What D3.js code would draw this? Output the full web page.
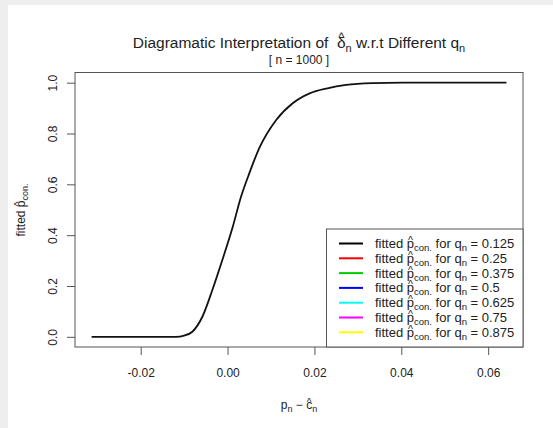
<!DOCTYPE html>
<html>
<head>
<meta charset="utf-8">
<script src="https://cdn.jsdelivr.net/npm/d3@7"></script>
<style>
  body { margin: 0; background: #fff; }
  text { font-family: "Liberation Sans", Arial, sans-serif; fill: #222; }
</style>
</head>
<body>
<svg id="chart" width="553" height="428"></svg>
<script>
// curve
var diffX = [-0.0313, -0.0119, -0.0100, -0.0081, -0.0058, -0.0035, -0.0012, 0.0012, 0.0031, 0.0050,
             0.0073, 0.0112, 0.0150, 0.0189, 0.0230, 0.0273, 0.0334, 0.0404, 0.0500, 0.0642];
var fittedP = [0, 0, 0.005, 0.02, 0.079, 0.184, 0.302, 0.433, 0.551, 0.643,
               0.742, 0.853, 0.919, 0.958, 0.978, 0.991, 0.998, 1.0, 1.0, 1.0];
var qValues = ["0.125", "0.25", "0.375", "0.5", "0.625", "0.75", "0.875"];
var qColors = ["#000000", "#ff0000", "#00cd00", "#0000ff", "#00ffff", "#ff00ff", "#ffff00"];
var xTicks = [-0.02, 0, 0.02, 0.04, 0.06];
var yTicks = [0, 0.2, 0.4, 0.6, 0.8, 1.0];

var svg = d3.select("#chart");
var pLeft = 75, pRight = 523, pTop = 72.5, pBottom = 347;

// grey frame strips of the screenshot
svg.append("rect").attr("x", 0).attr("y", 0).attr("width", 553).attr("height", 5).attr("fill", "#eeeeee");
svg.append("rect").attr("x", 0).attr("y", 0).attr("width", 8).attr("height", 428).attr("fill", "#eeeeee");

// R style 4% padding
var xe = d3.extent(diffX), xp = (xe[1] - xe[0]) * 0.04;
var x = d3.scaleLinear().domain([xe[0] - xp, xe[1] + xp]).range([pLeft, pRight]);
var y = d3.scaleLinear().domain([-0.04, 1.04]).range([pBottom, pTop]);

var data = diffX.map(function(d, i) { return {x: d, y: fittedP[i]}; });

var line = d3.line()
  .x(function(d) { return x(d.x); })
  .y(function(d) { return y(d.y); })
  .curve(d3.curveMonotoneX);

svg.append("path")
  .datum(data)
  .attr("d", line)
  .attr("fill", "none")
  .attr("stroke", "#111")
  .attr("stroke-width", 1.8);

// box
svg.append("rect")
  .attr("x", pLeft).attr("y", pTop)
  .attr("width", pRight - pLeft).attr("height", pBottom - pTop)
  .attr("fill", "none").attr("stroke", "#555").attr("stroke-width", 1);

function rNum(f) {
  return function(d) { return f(d).replace("\u2212", "-"); };
}

// x axis
var xa = svg.append("g").attr("transform", "translate(0," + pBottom + ")")
  .call(d3.axisBottom(x).tickValues(xTicks).tickSize(8).tickPadding(13)
    .tickFormat(rNum(d3.format(".2f"))));
xa.select(".domain").remove();
xa.selectAll("line").attr("stroke", "#555");
xa.selectAll("text").attr("font-size", "12px").attr("fill", "#222");

// y axis, rotated labels
var ya = svg.append("g").attr("transform", "translate(" + pLeft + ",0)")
  .call(d3.axisLeft(y).tickValues(yTicks).tickSize(8).tickFormat(d3.format(".1f")));
ya.select(".domain").remove();
ya.selectAll("line").attr("stroke", "#555");
ya.selectAll("text")
  .attr("font-size", "12px").attr("fill", "#222")
  .attr("x", null).attr("dy", null)
  .attr("text-anchor", "middle")
  .attr("transform", "translate(-18,0) rotate(-90)");

// small hat over a char; baseline given
function hat(parent, textSel, idx, baseline, size) {
  var ext = textSel.node().getExtentOfChar(idx);
  parent.append("text")
    .attr("x", ext.x + ext.width / 2)
    .attr("y", baseline)
    .attr("text-anchor", "middle")
    .attr("font-size", size + "px")
    .text("^");
}

// title
var title = svg.append("text")
  .attr("x", 299).attr("y", 48)
  .attr("text-anchor", "middle")
  .attr("font-size", "15.5px");
title.append("tspan").text("Diagramatic Interpretation of \u00a0\u03b4");
title.append("tspan").attr("font-size", "11px").attr("dy", 4).text("n");
title.append("tspan").attr("dy", -4).text(" w.r.t Different q");
title.append("tspan").attr("font-size", "11px").attr("dy", 4).text("n");
hat(svg, title, 31, 48 - 7.5, 12);

svg.append("text")
  .attr("x", 299).attr("y", 64)
  .attr("text-anchor", "middle")
  .attr("font-size", "12px")
  .text("[ n = 1000 ]");

// x label
var xl = svg.append("text")
  .attr("x", 299).attr("y", 409)
  .attr("text-anchor", "middle")
  .attr("font-size", "12px");
xl.append("tspan").text("p");
xl.append("tspan").attr("font-size", "9px").attr("dy", 3).text("n");
xl.append("tspan").attr("dy", -3).text(" \u2212 c");
xl.append("tspan").attr("font-size", "9px").attr("dy", 3).text("n");
hat(svg, xl, 5, 409 - 3.5, 10);

// y label
var yl = svg.append("g").attr("transform", "translate(25,210) rotate(-90)");
var ylt = yl.append("text").attr("text-anchor", "middle").attr("font-size", "12px");
ylt.append("tspan").text("fitted p");
ylt.append("tspan").attr("font-size", "9px").attr("dy", 3).text("con.");
hat(yl, ylt, 7, -3.5, 10);

// legend
var lg = svg.append("g");
lg.append("rect")
  .attr("x", 326.5).attr("y", 229)
  .attr("width", pRight - 326.5).attr("height", pBottom - 229)
  .attr("fill", "#fff").attr("stroke", "#555");

qValues.forEach(function(q, i) {
  var yy = 243.5 + i * 14.8;
  lg.append("line")
    .attr("x1", 339).attr("x2", 363).attr("y1", yy).attr("y2", yy)
    .attr("stroke", qColors[i]).attr("stroke-width", 2);
  var t = lg.append("text")
    .attr("x", 375).attr("y", yy + 4.5)
    .attr("font-size", "13px");
  t.append("tspan").text("fitted p");
  t.append("tspan").attr("font-size", "9.5px").attr("dy", 3).text("con.");
  t.append("tspan").attr("dy", -3).text(" for q");
  t.append("tspan").attr("font-size", "9.5px").attr("dy", 3).text("n");
  t.append("tspan").attr("dy", -3).text(" = " + q);
  hat(lg, t, 7, yy + 4.5 - 4, 10.5);
});
</script>
</body>
</html>
